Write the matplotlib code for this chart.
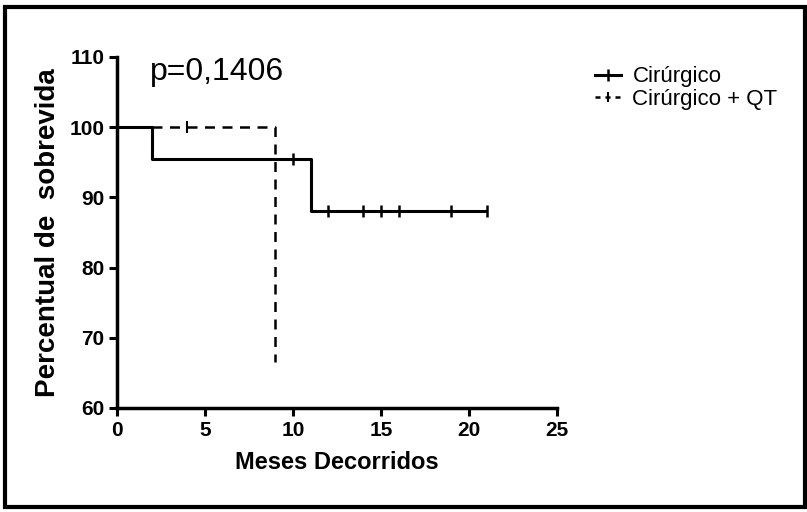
import matplotlib.pyplot as plt
from matplotlib.patches import Rectangle
from matplotlib.lines import Line2D

# Kaplan-Meier data
cir_t = [0, 2, 2, 11, 11, 21]
cir_s = [100, 100, 95.5, 95.5, 88, 88]
cir_cens_t = [10, 12, 14, 15, 16, 19, 21]
cir_cens_s = [95.5, 88, 88, 88, 88, 88, 88]

qt_t = [0, 9, 9]
qt_s = [100, 100, 66.5]
qt_cens_t = [4]
qt_cens_s = [100]

xticks = [0, 5, 10, 15, 20, 25]
yticks = [60, 70, 80, 90, 100, 110]

plt.rcParams['font.family'] = ['Liberation Sans', 'DejaVu Sans']

fig = plt.figure(figsize=(8.07, 5.12), dpi=100)
ax = fig.add_axes([117/807, 1-408/512, (557-117)/807, (408-57)/512])

ax.plot(cir_t, cir_s, color='black', lw=2.2, solid_capstyle='butt')
ax.plot(cir_cens_t, cir_cens_s, ls='none', marker='|', ms=9, mew=1.8, color='black')
ax.plot(qt_t, qt_s, color='black', lw=1.8, ls=(0, (4, 3)))
ax.plot(qt_cens_t, qt_cens_s, ls='none', marker='|', ms=9, mew=1.5, color='black')

ax.set_xlim(0, 25)
ax.set_ylim(60, 110)
ax.set_xticks(xticks)
ax.set_yticks(yticks)
for s in ['top', 'right']:
    ax.spines[s].set_visible(False)
for s in ['left', 'bottom']:
    ax.spines[s].set_linewidth(2.5)
ax.tick_params(direction='out', length=6, width=2.2, pad=3)
for lab in ax.get_xticklabels() + ax.get_yticklabels():
    lab.set_fontweight('bold')
    lab.set_fontsize(15)

ax.set_xlabel('Meses Decorridos', fontweight='bold', fontsize=17, labelpad=8)
ax.set_ylabel('Percentual de  sobrevida', fontweight='bold', fontsize=20, labelpad=6)

ax.text(1.85, 107.8, 'p=0,1406', fontsize=23, va='center')

handles = [Line2D([], [], color='black', lw=2.2, marker='|', ms=9, mew=1.8),
           Line2D([], [], color='black', lw=1.8, ls=(0, (2, 2)), marker='|', ms=7, mew=1.5)]
ax.legend(handles, ['Cirúrgico', 'Cirúrgico + QT'], loc='upper left',
          bbox_to_anchor=(1.04, 1.03), frameon=False, fontsize=16,
          handlelength=1.2, handletextpad=0.5, labelspacing=0.08)

fig.patches.append(Rectangle((5/807, 5/512), 800/807, 500/512, transform=fig.transFigure,
                             fill=False, edgecolor='black', lw=3))

plt.savefig('out.png', dpi=100)
